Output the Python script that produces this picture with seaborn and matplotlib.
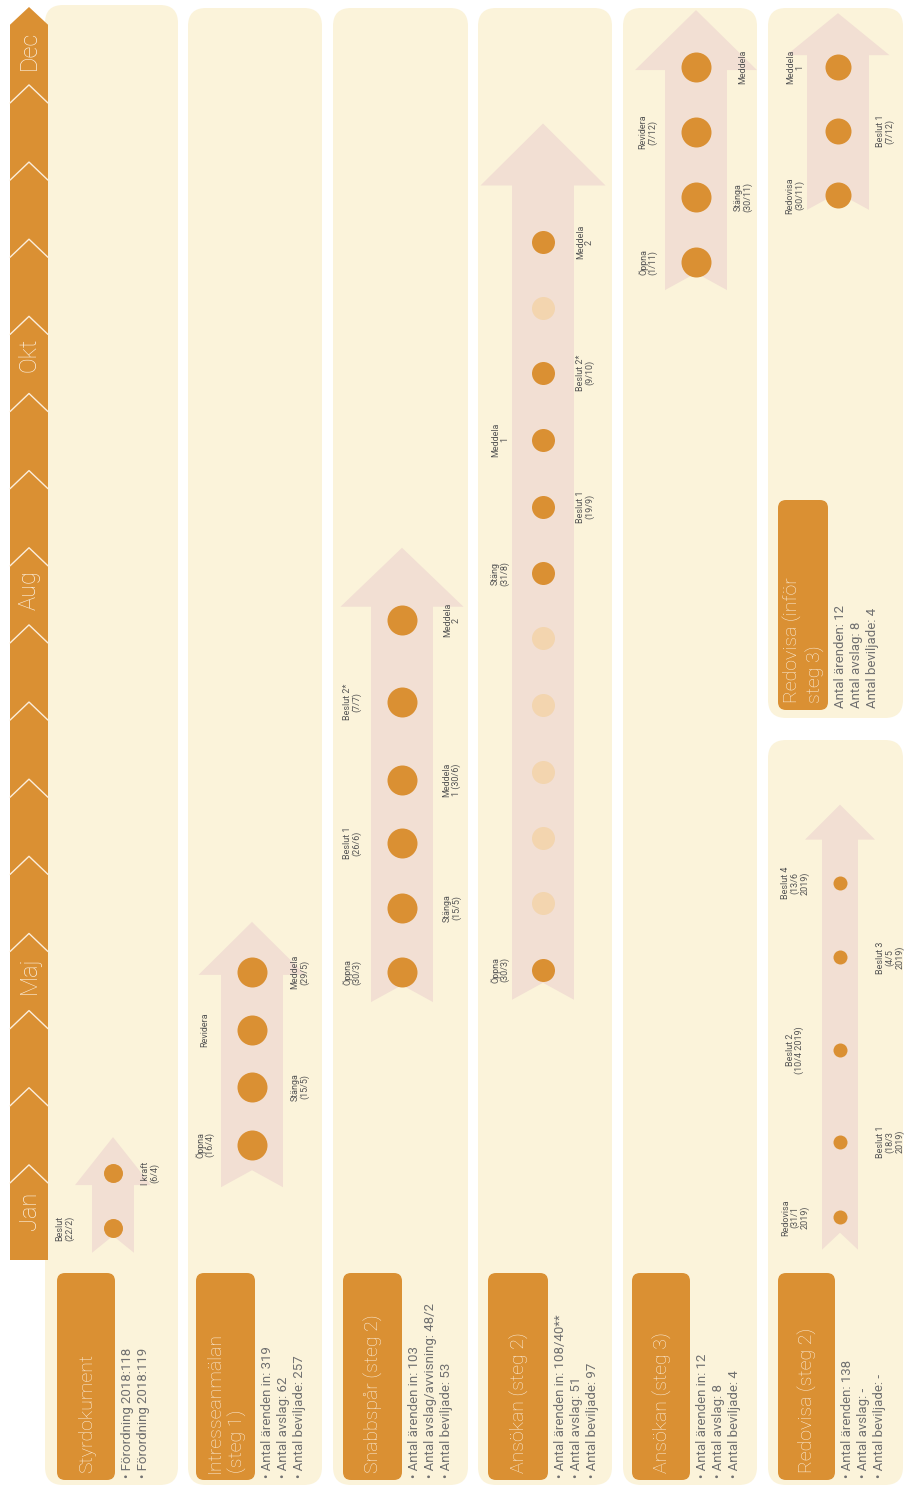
import numpy as np
import pandas as pd
import matplotlib
matplotlib.use("Agg")
import matplotlib.pyplot as plt
import seaborn as sns
from matplotlib.patches import FancyBboxPatch, Polygon

sns.set_theme(style="white")
plt.rcParams['font.family'] = ['Roboto', 'DejaVu Sans']
NARROW = ['Liberation Sans Narrow', 'Roboto', 'DejaVu Sans']

ORANGE = "#DA9033"
PANEL = "#FBF3DA"
ARROW = "#F2DFD3"
FADED = "#F3D5AF"
TXT = "#707070"
LIGHT = "#FCEEDB"

# timeline runs in chevron steps (0 = bottom, 16 = top)
months = ["Jan", "Maj", "Aug", "Okt", "Dec"]
month_pos = [0.40, 3.46, 8.45, 11.50, 15.45]
chevrons = list(range(1, 16))

titles = ["Styrdokument", "Intresseanmälan\n(steg 1)", "Snabbspår (steg 2)",
          "Ansökan (steg 2)", "Ansökan (steg 3)", "Redovisa (inför\nsteg 3)",
          "Redovisa (steg 2)"]
bullets = [
    ["• Förordning 2018:118", "• Förordning 2018:119"],
    ["• Antal ärenden in: 319", "• Antal avslag: 62", "• Antal beviljade: 257"],
    ["• Antal ärenden in: 103", "• Antal avslag/avvisning: 48/2", "• Antal beviljade: 53"],
    ["• Antal ärenden in: 108/40**", "• Antal avslag: 51", "• Antal beviljade: 97"],
    ["• Antal ärenden in: 12", "• Antal avslag: 8", "• Antal beviljade: 4"],
    ["Antal ärenden: 12", "Antal avslag: 8", "Antal beviljade: 4"],
    ["• Antal ärenden: 138", "• Antal avslag: -", "• Antal beviljade: -"],
]

# events per lane: position on timeline, label, label side, faded
styr_pos = [0.18, 0.89]
styr_lbl = ["Beslut\n(22/2)", "I kraft\n(6/4)"]
styr_side = ["L", "R"]

intr_pos = [1.26, 2.01, 2.75, 3.50]
intr_lbl = ["Öppna\n(16/4)", "Stänga\n(15/5)", "Revidera", "Meddela\n(29/5)"]
intr_side = ["L", "R", "L", "R"]

snabb_pos = [3.50, 4.33, 5.17, 5.99, 7.00, 8.06]
snabb_lbl = ["Öppna\n(30/3)", "Stänga\n(15/5)", "Beslut 1\n(26/6)", "Meddela\n1 (30/6)",
             "Beslut 2*\n(7/7)", "Meddela\n2"]
snabb_side = ["L", "R", "L", "R", "L", "R"]

ans2_pos = [3.53, 4.39, 5.24, 6.09, 6.96, 7.83, 8.67, 9.53, 10.40, 11.27, 12.11, 12.96]
ans2_lbl = ["Öppna\n(30/3)", "", "", "", "", "", "Stäng\n(31/8)", "Beslut 1\n(19/9)",
            "Meddela\n1", "Beslut 2*\n(9/10)", "", "Meddela\n2"]
ans2_side = ["L", "", "", "", "", "", "L", "R", "L", "R", "", "R"]
ans2_faded = [0, 1, 1, 1, 1, 1, 0, 0, 0, 0, 1, 0]

ans3_pos = [12.70, 13.55, 14.39, 15.23]
ans3_lbl = ["Öppna\n(1/11)", "Stänga\n(30/11)", "Revidera\n(7/12)", "Meddela"]
ans3_side = ["L", "R", "L", "R"]

red3_pos = [13.57, 14.40, 15.23]
red3_lbl = ["Redovisa\n(30/11)", "Beslut 1\n(7/12)", "Meddela\n1"]
red3_side = ["L", "R", "L"]

red2_pos = [0.32, 1.30, 2.49, 3.69, 4.65]
red2_lbl = ["Redovisa\n(31/1\n2019)", "Beslut 1\n(18/3\n2019)", "Beslut 2\n(10/4 2019)",
            "Beslut 3\n(4/5\n2019)", "Beslut 4\n(13/6\n2019)"]
red2_side = ["L", "R", "L", "R", "L"]

arrow_start = [-0.14, 0.71, 3.11, 3.14, 12.34, 13.38, -0.10]
arrow_end = [1.36, 4.15, 9.00, 14.50, 15.97, 15.93, 5.67]


def ty(py):
    return (1242 - py) / 77.14


ASP = 1 / 77.14

# layout per lane (pixels)
panels = [(45, 178, 5, 1485), (188, 322, 8, 1485), (333, 468, 8, 1485), (478, 612, 8, 1485),
          (623, 757, 8, 1485), (768, 903, 8, 718), (768, 903, 740, 1485)]
boxes = [(57, 115, 1273, 1480), (196, 255, 1273, 1480), (343, 402, 1273, 1480),
         (488, 548, 1273, 1480), (632, 690, 1273, 1480), (778, 828, 500, 710),
         (778, 835, 1273, 1480)]
centre = [113, 252, 402, 543, 696, 838, 840]
shaft = [42, 62, 62, 62, 62, 62, 36]
head = [76, 107, 123, 125, 122, 103, 70]
head_len = [48, 53, 59, 62, 60, 42, 35]
dot_px = [19, 30, 30, 23, 30, 26, 14]
lab_off = [(-48, 37), (-47, 48), (-50, 50), (-43, 42), (-48, 47), (-43, 47), (-45, 50)]

events = [
    (styr_pos, styr_lbl, styr_side, [0] * 2),
    (intr_pos, intr_lbl, intr_side, [0] * 4),
    (snabb_pos, snabb_lbl, snabb_side, [0] * 6),
    (ans2_pos, ans2_lbl, ans2_side, ans2_faded),
    (ans3_pos, ans3_lbl, ans3_side, [0] * 4),
    (red3_pos, red3_lbl, red3_side, [0] * 3),
    (red2_pos, red2_lbl, red2_side, [0] * 5),
]

fig = plt.figure(figsize=(9.05, 14.88), dpi=100)
ax = fig.add_axes([0, 0, 1, 1])
ax.set_xlim(0, 905)
ax.set_ylim(ty(1488), ty(0))
ax.axis('off')

# panels
for (x0, x1, y0, y1) in panels:
    ax.add_patch(FancyBboxPatch((x0, ty(y1)), x1 - x0, ty(y0) - ty(y1),
                                boxstyle="round,pad=0,rounding_size=18", mutation_aspect=ASP,
                                fc=PANEL, ec='none', zorder=1))

# month strip
strip = Polygon([(10, ty(1260)), (48, ty(1260)), (48, 15.78), (29, 16.01), (10, 15.78)],
                closed=True, fc=ORANGE, ec='none', zorder=2)
ax.add_patch(strip)
for k in chevrons:
    ax.plot([10, 29, 48], [k - 0.235, k, k - 0.235], color=LIGHT, lw=1, zorder=3)
for m, p in zip(months, month_pos):
    ax.text(29, p, m, rotation=90, ha='center', va='center', color=LIGHT,
            fontsize=17, fontweight='light', zorder=4)

for i in range(len(titles)):
    # title box
    bx0, bx1, by0, by1 = boxes[i]
    ax.add_patch(FancyBboxPatch((bx0, ty(by1)), bx1 - bx0, ty(by0) - ty(by1),
                                boxstyle="round,pad=0,rounding_size=8", mutation_aspect=ASP,
                                fc=ORANGE, ec='none', zorder=2))
    ax.text((bx0 + bx1) / 2 + 1, ty(by1 - 7), titles[i], rotation=90, ha='center', va='bottom',
            multialignment='left', color=LIGHT, fontsize=14, fontweight='light',
            linespacing=1.25, zorder=3)
    ax.text(bx1 + 6, ty(by1 - 2), "\n".join(bullets[i]), rotation=90, ha='left', va='bottom',
            multialignment='left', color=TXT, family=NARROW, fontsize=9.5,
            linespacing=1.3, zorder=3)

    # arrow
    cx, sw, hw = centre[i], shaft[i] / 2, head[i] / 2
    t0, t1 = arrow_start[i], arrow_end[i]
    hl = head_len[i] * ASP
    n = 17 * ASP
    pts = [(cx - sw, t0), (cx, t0 + n), (cx + sw, t0), (cx + sw, t1 - hl), (cx + hw, t1 - hl),
           (cx, t1), (cx - hw, t1 - hl), (cx - sw, t1 - hl)]
    ax.add_patch(Polygon(pts, closed=True, fc=ARROW, ec='none', zorder=2))

    # dots
    pos, lbl, side, faded = events[i]
    df = pd.DataFrame({"x": [cx] * len(pos), "t": pos, "faded": faded})
    s = (dot_px[i] * 0.72) ** 2
    sns.scatterplot(data=df[df.faded == 1], x="x", y="t", s=s, color=FADED,
                    linewidth=0, ax=ax, zorder=4, legend=False)
    sns.scatterplot(data=df[df.faded == 0], x="x", y="t", s=s, color=ORANGE,
                    linewidth=0, ax=ax, zorder=5, legend=False)
    for p, l, sd in zip(pos, lbl, side):
        if not l:
            continue
        off = lab_off[i][0] if sd == "L" else lab_off[i][1]
        ax.text(cx + off, p, l, rotation=90, ha='center', va='center', multialignment='center',
                color="#555555", family=NARROW, fontsize=6.5, linespacing=1.0, zorder=6)

ax.set_xlabel("")
ax.set_ylabel("")
fig.savefig("out.png", dpi=100, facecolor="white")
